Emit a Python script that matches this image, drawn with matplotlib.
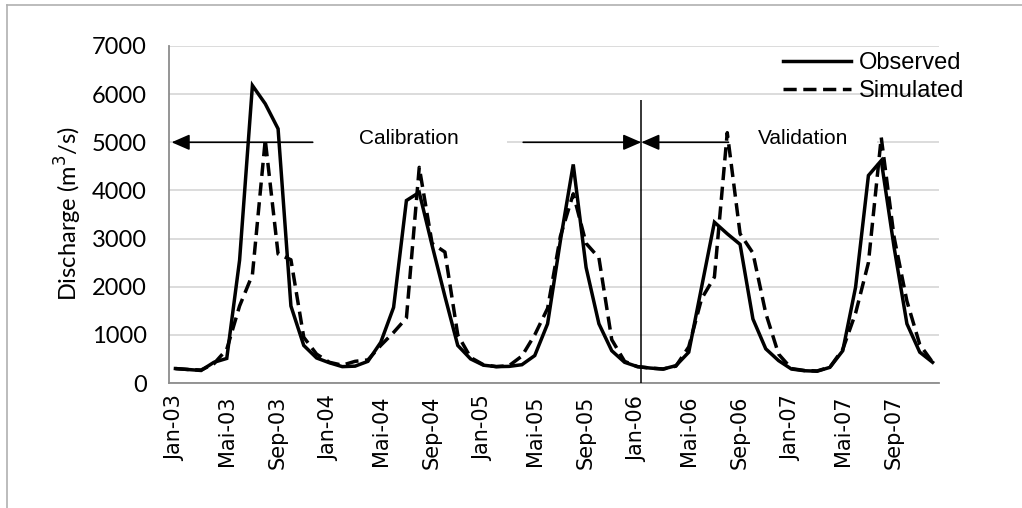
import matplotlib
matplotlib.use("Agg")
import matplotlib.pyplot as plt
from matplotlib.lines import Line2D
import numpy as np

# ---- data ----
months = ["Jan", "Feb", "Mar", "Apr", "Mai", "Jun", "Jul", "Aug", "Sep", "Okt", "Nov", "Dez"]
years = ["03", "04", "05", "06", "07"]
categories = [f"{m}-{y}" for y in years for m in months]

observed_2003 = [300, 280, 260, 430, 510, 2550, 6180, 5800, 5280, 1600, 780, 520]
observed_2004 = [420, 340, 350, 450, 845, 1570, 3790, 3960, 2860, 1800, 780, 500]
observed_2005 = [370, 340, 345, 380, 570, 1230, 2960, 4540, 2400, 1230, 670, 430]
observed_2006 = [340, 310, 290, 360, 640, 1990, 3340, 3100, 2880, 1330, 710, 465]
observed_2007 = [290, 255, 245, 325, 670, 1990, 4310, 4620, 2820, 1230, 640, 430]

simulated_2003 = [300, 280, 270, 400, 700, 1600, 2250, 5050, 2680, 2560, 950, 600]
simulated_2004 = [430, 370, 450, 480, 780, 1050, 1350, 4480, 2900, 2720, 1000, 530]
simulated_2005 = [380, 340, 360, 560, 1000, 1550, 3050, 3930, 2900, 2600, 900, 450]
simulated_2006 = [340, 310, 290, 350, 750, 1750, 2200, 5200, 3100, 2700, 1450, 600]
simulated_2007 = [300, 260, 250, 330, 700, 1450, 2500, 5100, 3030, 1700, 800, 430]

observed = observed_2003 + observed_2004 + observed_2005 + observed_2006 + observed_2007
simulated = simulated_2003 + simulated_2004 + simulated_2005 + simulated_2006 + simulated_2007

tick_step = 4
y_ticks = [0, 1000, 2000, 3000, 4000, 5000, 6000, 7000]

# ---- figure ----
fig = plt.figure(figsize=(10.22, 5.08), dpi=100)
ax = fig.add_axes([169 / 1022, 1 - 383 / 508, 770 / 1022, 337 / 508])

x = np.arange(len(categories))
ax.plot(x, observed, color="black", lw=2.5, solid_joinstyle="miter", zorder=3, label="Observed")
ln, = ax.plot(x, simulated, color="black", lw=2.5, zorder=3, label="Simulated")
ln.set_dashes([3.8, 1.9])

ax.set_xlim(-0.5, len(categories) - 0.5)
ax.set_ylim(0, 7000)
ax.set_yticks(y_ticks)
ax.set_yticklabels([str(v) for v in y_ticks], family="Lato", fontsize=17)
ax.set_xticks(x[::tick_step])
ax.set_xticklabels(categories[::tick_step], rotation=90, family="DejaVu Sans", fontsize=15)
ax.tick_params(axis="y", length=0, pad=16)
ax.tick_params(axis="x", length=0, pad=9)

ax.set_axisbelow(True)
ax.yaxis.grid(True, color="#d9d9d9", lw=1.3)
for s in ["top", "right"]:
    ax.spines[s].set_visible(False)
for s in ["left", "bottom"]:
    ax.spines[s].set_color("#8c8c8c")
    ax.spines[s].set_linewidth(1.3)

fig.text(68 / 1022, 1 - 214 / 508, "Discharge (m$^3$/s)", rotation=90, ha="center", va="center",
         family="Lato", fontsize=17)

# ---- annotations ----
split_x = 36.3
arrow_y = 5000
ax.vlines(split_x, 0, 5870, color="black", lw=1.1, zorder=4)
# white breaks in the gridline behind the labels
ax.hlines(arrow_y, 10.7, 25.8, color="white", lw=3, zorder=1)
ax.hlines(arrow_y, 43.1, 54.7, color="white", lw=3, zorder=1)

aprops = dict(arrowstyle="-|>,head_length=0.55,head_width=0.24", color="black", lw=1.2,
              shrinkA=0, shrinkB=0, mutation_scale=20)
ax.annotate("", xy=(-0.3, arrow_y), xytext=(10.7, arrow_y), arrowprops=aprops, zorder=4)
ax.annotate("", xy=(split_x, arrow_y), xytext=(27.1, arrow_y), arrowprops=aprops, zorder=4)
ax.annotate("", xy=(split_x, arrow_y), xytext=(43.1, arrow_y), arrowprops=aprops, zorder=4)
ax.text(18.2, 5080, "Calibration", ha="center", va="center", family="Liberation Sans", fontsize=15, zorder=4)
ax.text(48.9, 5080, "Validation", ha="center", va="center", family="Liberation Sans", fontsize=15, zorder=4)

leg = ax.legend(loc="upper left", bbox_to_anchor=((783 - 169) / 770, (383 - 52) / 337),
                frameon=False, prop={"family": "Liberation Sans", "size": 17},
                handlelength=2.9, handletextpad=0.3, borderpad=0, borderaxespad=0,
                labelspacing=0.25)

# chart border (left and top)
fig.add_artist(Line2D([6.5 / 1022, 6.5 / 1022], [0, 1 - 5 / 508], color="#b0b0b0", lw=1.2,
                      transform=fig.transFigure))
fig.add_artist(Line2D([6.5 / 1022, 1], [1 - 5 / 508, 1 - 5 / 508], color="#b0b0b0", lw=1.2,
                      transform=fig.transFigure))

fig.savefig("out.png", dpi=100)
